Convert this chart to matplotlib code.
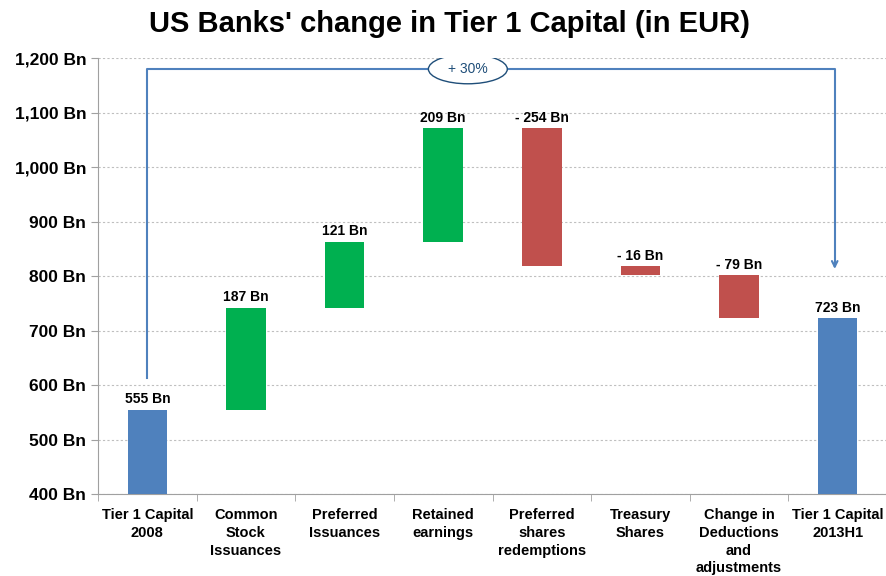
import numpy as np
import matplotlib
matplotlib.use('Agg')
import matplotlib.pyplot as plt
from matplotlib.patches import Ellipse
from matplotlib.ticker import FuncFormatter

categories = ["Tier 1 Capital\n2008", "Common\nStock\nIssuances", "Preferred\nIssuances",
              "Retained\nearnings", "Preferred\nshares\nredemptions", "Treasury\nShares",
              "Change in\nDeductions\nand\nadjustments", "Tier 1 Capital\n2013H1"]
changes = [555, 187, 121, 209, -254, -16, -79, 723]
kinds = ["total", "delta", "delta", "delta", "delta", "delta", "delta", "total"]
growth_label = "+ 30%"

BLUE = "#4F81BD"
GREEN = "#00B050"
RED = "#C0504D"

plt.rcParams['font.family'] = ['Liberation Sans', 'DejaVu Sans']

fig = plt.figure(figsize=(8.87, 5.76), dpi=100)
ax = fig.add_axes([0.1105, 0.1424, 0.8895, 0.7566])

x = np.arange(len(categories))
level = 0
for i, (v, k) in enumerate(zip(changes, kinds)):
    if k == "total":
        bottom, height, color = 0, v, BLUE
        top = v
        level = v
        text = f"{v} Bn"
    else:
        start = level
        level = level + v
        bottom = min(start, level)
        height = abs(v)
        top = max(start, level)
        color = GREEN if v > 0 else RED
        text = f"{v} Bn" if v > 0 else f"- {abs(v)} Bn"
    ax.bar(x[i], height, bottom=bottom, width=0.4, color=color, zorder=3)
    ax.text(x[i], top + 6, text, ha="center", va="bottom", fontsize=10,
            fontweight="bold", zorder=4)

# growth bracket from first to last total
bx0, bx1 = x[0], x[-1] - 0.03
ax.plot([bx0, bx0, bx1, bx1], [613, 1180, 1180, 818], color=BLUE, lw=1.5,
        zorder=4, clip_on=False)
ax.annotate("", xy=(bx1, 808), xytext=(bx1, 830),
            arrowprops=dict(arrowstyle="->", color=BLUE, lw=1.5), zorder=4)
ell = Ellipse((3.25, 1180), 0.8, 54, facecolor="white", edgecolor="#1F4E79",
              lw=1.0, zorder=5)
ax.add_patch(ell)
ax.text(3.25, 1180, growth_label, ha="center", va="center", fontsize=10,
        color="#1F4E79", zorder=6)

ax.set_xlim(-0.5, len(categories) - 0.5)
ax.set_ylim(400, 1200)
ax.set_yticks(np.arange(400, 1201, 100))
ax.yaxis.set_major_formatter(FuncFormatter(lambda v, p: f"{int(v):,} Bn"))
ax.set_xticks(x)
ax.set_xticklabels(categories, fontsize=10.5, fontweight="bold", linespacing=1.35)
ax.set_xticks(np.arange(-0.5, len(categories), 1), minor=True)
ax.tick_params(axis="x", which="major", length=0, pad=10)
ax.tick_params(axis="x", which="minor", length=5, color="#A0A0A0")
ax.tick_params(axis="y", length=5, color="#A0A0A0", labelsize=12.5)
for lab in ax.get_yticklabels():
    lab.set_fontweight("bold")

ax.grid(axis="y", linestyle=(0, (2, 2)), color="#BFBFBF", lw=0.8, zorder=0)
ax.spines["top"].set_visible(False)
ax.spines["right"].set_visible(False)
ax.spines["left"].set_color("#A0A0A0")
ax.spines["bottom"].set_color("#A0A0A0")

fig.suptitle("US Banks' change in Tier 1 Capital (in EUR)", fontsize=21,
             fontweight="bold", x=0.507, y=0.983)

fig.savefig("out.png", dpi=100)
